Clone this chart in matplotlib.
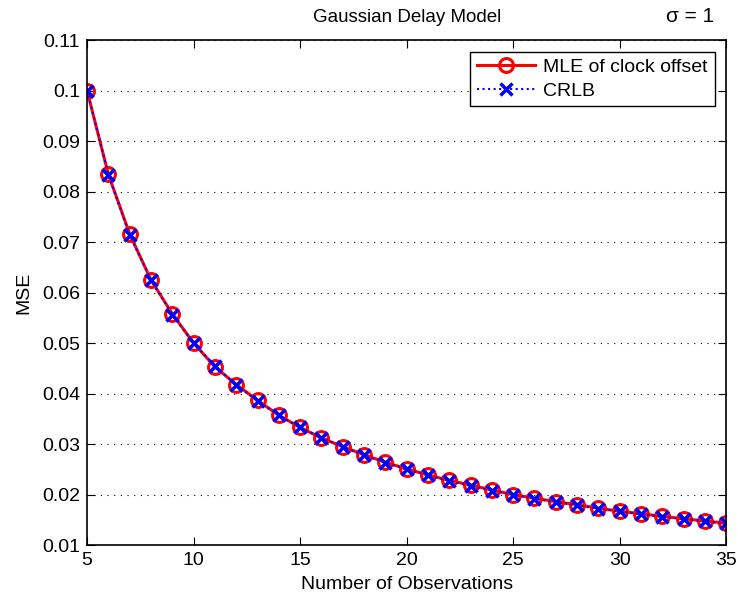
import matplotlib
matplotlib.use('Agg')
import matplotlib.pyplot as plt

plt.rcParams['font.family'] = ['Liberation Sans', 'DejaVu Sans']

# data
n_obs = [5, 6, 7, 8, 9, 10, 11, 12, 13, 14, 15, 16, 17, 18, 19, 20,
         21, 22, 23, 24, 25, 26, 27, 28, 29, 30, 31, 32, 33, 34, 35]
crlb = [0.1000, 0.0833, 0.0714, 0.0625, 0.0556, 0.0500, 0.0455, 0.0417,
        0.0385, 0.0357, 0.0333, 0.0313, 0.0294, 0.0278, 0.0263, 0.0250,
        0.0238, 0.0227, 0.0217, 0.0208, 0.0200, 0.0192, 0.0185, 0.0179,
        0.0172, 0.0167, 0.0161, 0.0156, 0.0152, 0.0147, 0.0143]
mle = [0.1000, 0.0834, 0.0716, 0.0625, 0.0558, 0.0500, 0.0453, 0.0418,
       0.0387, 0.0357, 0.0333, 0.0312, 0.0295, 0.0279, 0.0264, 0.0251,
       0.0239, 0.0228, 0.0219, 0.0209, 0.0200, 0.0193, 0.0186, 0.0180,
       0.0173, 0.0167, 0.0162, 0.0157, 0.0152, 0.0148, 0.0143]

fig = plt.figure(figsize=(7.38, 5.99), dpi=100)
ax = fig.add_axes([0.118, 0.090, 0.866, 0.843])

ax.plot(n_obs, mle, color='red', lw=2.2, marker='o', ms=10, mfc='none',
        mew=2.2, label='MLE of clock offset')
ax.plot(n_obs, crlb, color='blue', lw=1.5, ls=':', marker='x', ms=9,
        mew=2.5, label='CRLB')

ax.set_xlim(5, 35)
ax.set_ylim(0.01, 0.11)
ax.set_xticks([5, 10, 15, 20, 25, 30, 35])
ax.set_yticks([0.01, 0.02, 0.03, 0.04, 0.05, 0.06, 0.07, 0.08, 0.09, 0.10, 0.11])
ax.set_yticklabels(['0.01', '0.02', '0.03', '0.04', '0.05', '0.06', '0.07',
                    '0.08', '0.09', '0.1', '0.11'])
ax.yaxis.grid(True, ls=(0, (1, 5)), color='black', lw=0.8)
ax.tick_params(direction='in', top=True, right=True, labelsize=14, length=6,
               pad=5)
for s in ax.spines.values():
    s.set_linewidth(1.2)

ax.set_xlabel('Number of Observations', fontsize=14, labelpad=5)
ax.set_ylabel('MSE', fontsize=14, labelpad=7)
ax.set_title('Gaussian Delay Model', fontsize=13.5, pad=13)
fig.text(0.935, 0.972, 'σ = 1', fontsize=15, ha='center', va='center')

leg = ax.legend(loc='upper right', fontsize=14, fancybox=False,
                edgecolor='black', framealpha=1, borderaxespad=0.6,
                handlelength=3.0, borderpad=0.35, labelspacing=0.3,
                handletextpad=0.4)
leg.get_frame().set_linewidth(1.0)

fig.savefig('out.png', dpi=100)
